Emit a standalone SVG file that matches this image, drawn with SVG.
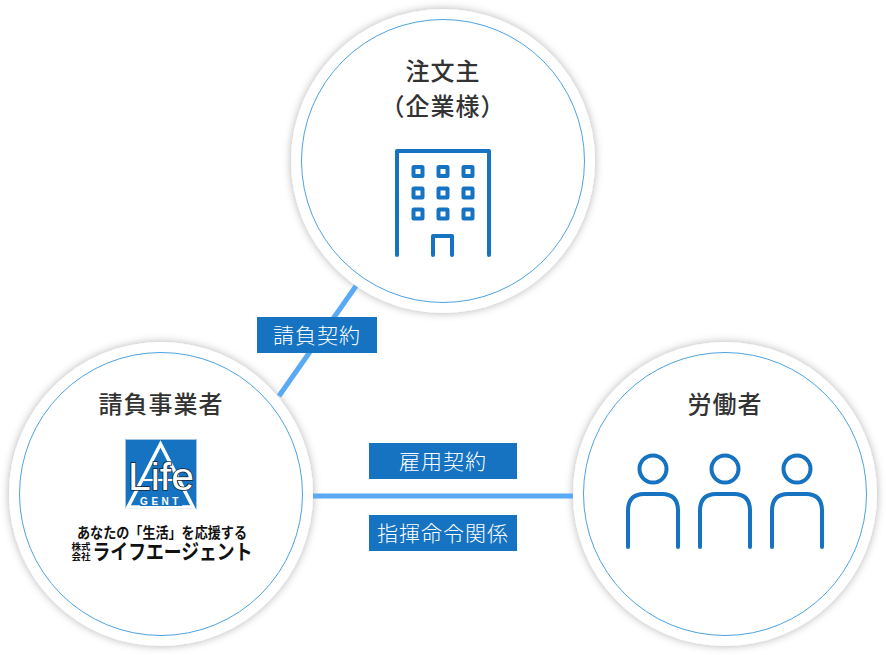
<svg xmlns="http://www.w3.org/2000/svg" width="886" height="655" viewBox="0 0 886 655">
<defs>
<filter id="sh" x="-10%" y="-10%" width="120%" height="120%"><feDropShadow dx="0" dy="0" stdDeviation="4" flood-color="#000" flood-opacity="0.3"/></filter>
<g id="person"><circle cx="0" cy="-51" r="13.500" class="ic"/><path d="M-25 27V-9Q-25 -26 -9 -26H9Q25 -26 25 -9V27" class="ic"/></g>
</defs>
<style>
text{font-family:"Noto Sans CJK JP","Noto Sans",sans-serif}
.outer{fill:#fff;filter:url(#sh)}
.inner{fill:#fff;stroke:#4da3e0;stroke-width:1}
.ttl{font-size:24px;font-weight:500;fill:#333;text-anchor:middle;letter-spacing:1px}
.lbl{fill:#1673c1}
.lt{font-size:21px;font-weight:200;fill:#fff;text-anchor:middle;letter-spacing:1px}
.ic{fill:none;stroke:#1673c1;stroke-width:4;stroke-linecap:round;stroke-linejoin:round}
.line{stroke:#5aa9f5;stroke-width:5;fill:none}
.win{fill:none;stroke:#1673c1;stroke-width:4}
.lg{font-weight:700;fill:#111;text-anchor:middle}
</style>
<g id="circle-top"><circle class="outer" cx="443" cy="161" r="152"/><circle class="inner" cx="443" cy="161" r="141.500"/></g>
<g id="circle-left"><circle class="outer" cx="161" cy="494" r="152"/><circle class="inner" cx="161" cy="494" r="141.500"/></g>
<g id="circle-right"><circle class="outer" cx="725" cy="494" r="152"/><circle class="inner" cx="725" cy="494" r="141.500"/></g>
<g id="connectors">
<line class="line" x1="356" y1="286" x2="279" y2="396"/>
<line class="line" x1="313" y1="496" x2="573" y2="496"/>
</g>
<g id="label-ukeoi"><rect class="lbl" x="257" y="317" width="120" height="36"/><text class="lt" x="317" y="343">請負契約</text></g>
<g id="label-koyo"><rect class="lbl" x="369" y="443" width="148" height="36"/><text class="lt" x="443" y="469">雇用契約</text></g>
<g id="label-shiki"><rect class="lbl" x="369" y="515" width="148" height="36"/><text class="lt" x="443" y="541">指揮命令関係</text></g>
<g id="node-client">
<text class="ttl" x="443" y="80">注文主</text>
<text class="ttl" x="443" y="115">（企業様）</text>
<path class="ic" d="M397 255V151H489V255"/>
<path class="ic" d="M433 255V236H452V255"/>
<g class="win">
<rect x="413.500" y="167" width="9" height="9" rx="0.500"/><rect x="438.500" y="167" width="9" height="9" rx="0.500"/><rect x="463.500" y="167" width="9" height="9" rx="0.500"/>
<rect x="413.500" y="188.500" width="9" height="9" rx="0.500"/><rect x="438.500" y="188.500" width="9" height="9" rx="0.500"/><rect x="463.500" y="188.500" width="9" height="9" rx="0.500"/>
<rect x="413.500" y="209.500" width="9" height="9" rx="0.500"/><rect x="438.500" y="209.500" width="9" height="9" rx="0.500"/><rect x="463.500" y="209.500" width="9" height="9" rx="0.500"/>
</g>
</g>
<g id="node-contractor">
<text class="ttl" x="161" y="413">請負事業者</text>
<g id="logo">
<rect x="125.500" y="439.500" width="71" height="69" fill="#1673c1" stroke="#9cc6e6"/>
<path d="M160.500 444L128 507H193Z" fill="none" stroke="#fff" stroke-width="3.500"/>
<rect x="142" y="479" width="38" height="2" fill="#fff"/>
<rect x="140" y="494" width="42" height="12" fill="#1673c1"/>
<text x="161" y="490" font-size="38" text-anchor="middle" textLength="66" lengthAdjust="spacingAndGlyphs" style="font-family:'Liberation Sans',sans-serif" fill="#fff" stroke="#123" stroke-width="1.500" paint-order="stroke">Life</text>
<text x="161" y="504.500" font-size="10" font-weight="700" text-anchor="middle" letter-spacing="3.500" style="font-family:'Liberation Sans',sans-serif" fill="#fff">GENT</text>
</g>
<text class="lg" x="162" y="537.500" font-size="14.500" textLength="170" lengthAdjust="spacingAndGlyphs">あなたの「生活」を応援する</text>
<text class="lg" x="81" y="550" font-size="9.500">株式</text>
<text class="lg" x="81" y="560" font-size="9.500">会社</text>
<text class="lg" x="172.500" y="559" font-size="21" font-weight="900" textLength="160" lengthAdjust="spacingAndGlyphs">ライフエージェント</text>
</g>
<g id="node-worker">
<text class="ttl" x="725" y="413">労働者</text>
<use href="#person" x="653" y="520"/>
<use href="#person" x="725" y="520"/>
<use href="#person" x="797" y="520"/>
</g>
</svg>
